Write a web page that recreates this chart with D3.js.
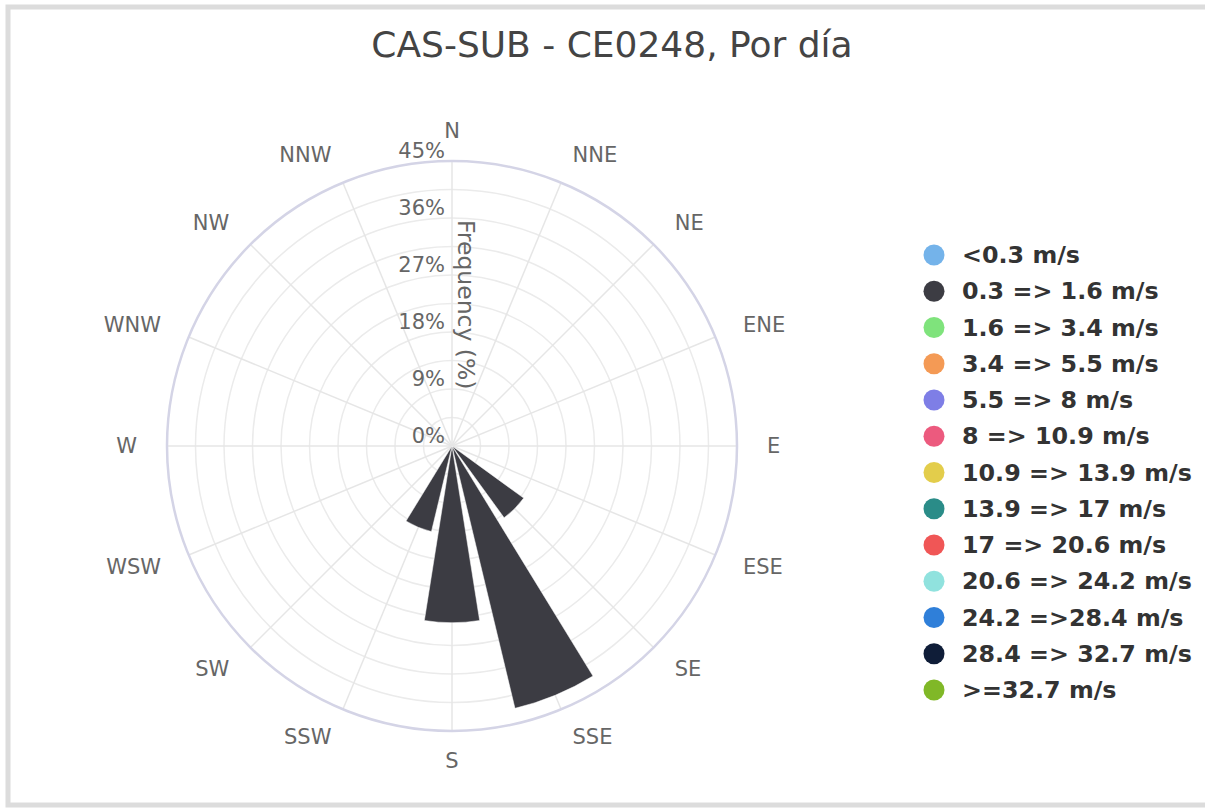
<!DOCTYPE html>
<html>
<head>
<meta charset="utf-8">
<script src="https://cdn.jsdelivr.net/npm/d3@7"></script>
<style>
  body { margin: 0; background: #fff; }
  svg { display: block; }
</style>
</head>
<body>
<div class="rose"></div>
<script>
// compass sectors
const directions = ["N", "NNE", "NE", "ENE", "E", "ESE", "SE", "SSE", "S", "SSW", "SW", "WSW", "W", "WNW", "NW", "NNW"];
// speed bins (legend) and their colours
const speedBins = ["<0.3 m/s", "0.3 => 1.6 m/s", "1.6 => 3.4 m/s", "3.4 => 5.5 m/s", "5.5 => 8 m/s", "8 => 10.9 m/s",
  "10.9 => 13.9 m/s", "13.9 => 17 m/s", "17 => 20.6 m/s", "20.6 => 24.2 m/s", "24.2 =>28.4 m/s", "28.4 => 32.7 m/s", ">=32.7 m/s"];
const binColors = ["#74b3ea", "#3c3c43", "#7fe37c", "#f49a55", "#7e7ee6", "#ec5a7e", "#e3cd4b", "#2a8c88",
  "#f05656", "#90e2de", "#2f7fd9", "#0f1d38", "#80b827"];
// frequency (%) per direction, only the 0.3 => 1.6 m/s bin has data
const freq0316 = [0, 0, 0, 0, 0, 0, 14.0, 42.6, 27.9, 13.9, 0, 0, 0, 0, 0, 0];
const radialTicks = [0, 9, 18, 27, 36, 45];

const W = 1205, H = 809;
const cx = 452, cy = 446, R = 285;

const svg = d3.select('.rose').append('svg')
  .attr('width', W).attr('height', H)
  .style('font-family', '"DejaVu Sans", sans-serif');

// frame
svg.append('rect')
  .attr('x', 8).attr('y', 7).attr('width', W + 10).attr('height', 798)
  .attr('fill', 'none').attr('stroke', '#dcdcdc').attr('stroke-width', 5);

svg.append('text')
  .attr('x', 612).attr('y', 57)
  .attr('text-anchor', 'middle')
  .attr('font-size', 36).attr('fill', '#444')
  .text('CAS-SUB - CE0248, Por día');

let rScale = d3.scaleLinear().domain([0, 45]).range([0, R]);
let step = 2 * Math.PI / directions.length;
let barW = step * 0.8;

let g = svg.append('g').attr('transform', 'translate(' + cx + ',' + cy + ')');

// circular grid, every half tick
let gridVals = d3.range(4.5, 45, 4.5);
g.selectAll('circle.grid')
  .data(gridVals)
  .enter().append('circle')
  .attr('class', 'grid')
  .attr('r', d => rScale(d))
  .attr('fill', 'none').attr('stroke', '#ebebeb').attr('stroke-width', 1.5);

// angular grid
g.selectAll('line.spoke')
  .data(directions)
  .enter().append('line')
  .attr('class', 'spoke')
  .attr('x2', (d, i) => R * Math.sin(i * step))
  .attr('y2', (d, i) => -R * Math.cos(i * step))
  .attr('stroke', '#e6e6e6').attr('stroke-width', 1.5);

g.append('circle')
  .attr('r', R).attr('fill', 'none')
  .attr('stroke', '#d4d4e6').attr('stroke-width', 2.5);

// stacked bars
let table = directions.map((d, i) => {
  let row = { dir: d, i: i };
  speedBins.forEach((b, k) => { row[b] = k === 1 ? freq0316[i] : 0; });
  return row;
});
let stacked = d3.stack().keys(speedBins)(table);

let arc = d3.arc()
  .innerRadius(d => rScale(d[0]))
  .outerRadius(d => rScale(d[1]))
  .startAngle(d => d.data.i * step - barW / 2)
  .endAngle(d => d.data.i * step + barW / 2);

g.selectAll('g.layer')
  .data(stacked)
  .enter().append('g')
  .attr('class', 'layer')
  .attr('fill', (d, k) => binColors[k])
  .selectAll('path')
  .data(d => d.filter(v => v[1] > v[0]))
  .enter().append('path')
  .attr('d', arc)
  .attr('stroke', '#fff').attr('stroke-width', 0.5);

// radial tick labels
g.selectAll('text.rtick')
  .data(radialTicks)
  .enter().append('text')
  .attr('class', 'rtick')
  .attr('x', -7)
  .attr('y', d => -rScale(d) - 3)
  .attr('text-anchor', 'end')
  .attr('font-size', 21).attr('fill', '#666')
  .text(d => d + '%');

g.append('text')
  .attr('transform', 'translate(14,' + (-rScale(22.3)) + ') rotate(90)')
  .attr('text-anchor', 'middle')
  .attr('dominant-baseline', 'central')
  .attr('font-size', 23.5).attr('fill', '#666')
  .text('Frequency (%)');

// compass labels, 30px outside the rim
g.selectAll('text.atick')
  .data(directions)
  .enter().append('text')
  .attr('class', 'atick')
  .attr('font-size', 21).attr('fill', '#666')
  .attr('dominant-baseline', 'central')
  .attr('text-anchor', (d, i) => {
    let s = Math.sin(i * step);
    return Math.abs(s) < 0.01 ? 'middle' : (s > 0 ? 'start' : 'end');
  })
  .attr('x', (d, i) => (R + 30) * Math.sin(i * step))
  .attr('y', (d, i) => -(R + 30) * Math.cos(i * step))
  .text(d => d);

// legend
let legend = svg.append('g').attr('transform', 'translate(934,255)');
let item = legend.selectAll('g')
  .data(speedBins)
  .enter().append('g')
  .attr('transform', (d, k) => 'translate(0,' + k * 36.25 + ')');
item.append('circle').attr('r', 10.5).attr('fill', (d, k) => binColors[k]);
item.append('text')
  .attr('x', 28)
  .attr('dominant-baseline', 'central')
  .attr('font-size', 23.8).attr('font-weight', 'bold').attr('fill', '#333')
  .text(d => d);
</script>
</body>
</html>
